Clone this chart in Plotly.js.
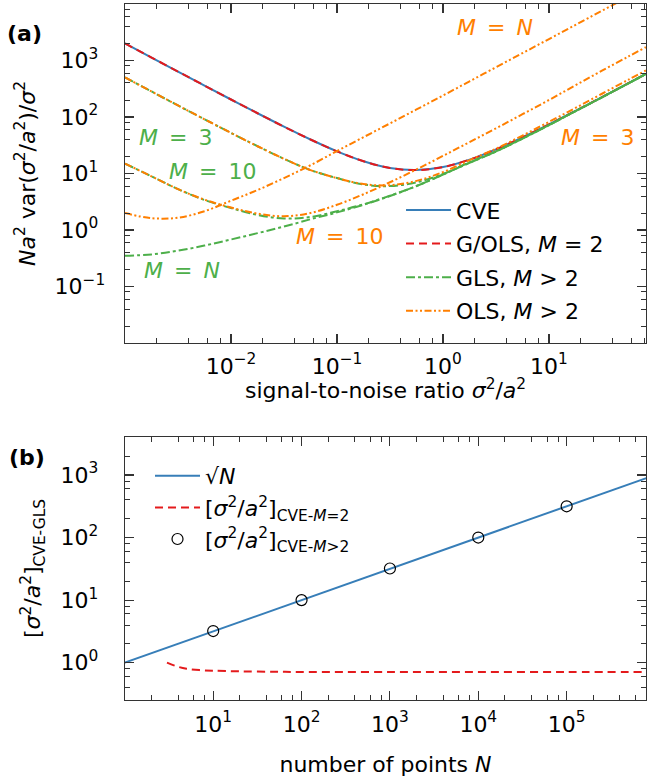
<!DOCTYPE html>
<html><head><meta charset="utf-8">
<script src="https://cdn.plot.ly/plotly-3.0.1.min.js"></script>
<style>html,body{margin:0;padding:0;background:#fff}</style>
</head><body><div id="chart" style="width:650px;height:783px"></div>
<script>
// ---------- panel (a) data ----------
const snr      = [0.001, 0.00178, 0.00316, 0.00562, 0.01, 0.0178, 0.0316, 0.0562, 0.1, 0.178, 0.316, 0.562, 1, 1.78, 3.16, 5.62, 10, 17.8, 31.6, 56.2, 82];
const cve      = [2000, 1128, 637, 360, 204, 116.5, 67.5, 40, 24.7, 16.5, 12.5, 11.5, 13, 17.6, 26.8, 43.7, 74, 128.7, 225, 397, 578];
const gOlsM2   = [2000, 1128, 637, 360, 204, 116.5, 67.5, 40, 24.7, 16.5, 12.5, 11.5, 13, 17.6, 26.8, 43.7, 74, 128.7, 225, 397, 578];
const glsM3    = [502, 283, 160, 91.2, 52.3, 30.4, 18.2, 11.5, 8.3, 6.4, 6.0, 7.0, 9.8, 15.8, 24.7, 41.6, 72, 127, 223, 395, 576];
const glsM10   = [15, 8.9, 5.3, 3.4, 2.45, 1.85, 1.6, 1.7, 2.15, 2.85, 4.05, 6.0, 9.6, 15.5, 24.5, 41.5, 72, 127, 223, 395, 576];
const glsMN    = [0.35, 0.37, 0.43, 0.53, 0.68, 0.88, 1.15, 1.55, 2.05, 2.8, 4.0, 6.0, 9.6, 15.5, 24.5, 41.5, 72, 127, 223, 395, 576];
const olsM3    = [502, 283, 160, 91.2, 52.3, 30.4, 18.2, 11.5, 8.3, 6.5, 6.2, 7.4, 10.6, 17.3, 27.5, 47, 82, 145, 258, 458, 665];
const olsM10   = [15, 8.9, 5.3, 3.45, 2.5, 1.95, 1.75, 2.0, 2.8, 4.3, 7.0, 11.8, 20.5, 36, 63, 112, 200, 365, 660, 1180, 1720];
const olsMN    = [2.0, 1.62, 1.65, 2.15, 3.3, 5.1, 8.3, 14, 25, 44, 77, 136, 240, 428, 760, 1350, 2400, 4270, 7600, 13500, 19700];

// ---------- panel (b) data ----------
const nPts     = [1, 10, 100, 1000, 10000, 100000, 800000];
const sqrtN    = [1, 3.16, 10, 31.6, 100, 316, 894];
const redN     = [3, 4, 5, 7, 10, 20, 50, 100, 1000, 10000, 100000, 800000];
const redVals  = [1.0, 0.86, 0.8, 0.76, 0.745, 0.725, 0.715, 0.71, 0.707, 0.707, 0.707, 0.707];
const circN    = [10, 100, 1000, 10000, 100000];
const circVals = [3.2, 10, 32, 100, 316];

// ---------- tick labels ----------
const NB = '\u00A0';
const aXTickVals = [0.01, 0.1, 1, 10];
const aXTickText = ['10<sup>\u22122</sup>', '10<sup>\u22121</sup>', '10<sup>0</sup>', '10<sup>1</sup>'];
const aYTickVals = [0.1, 1, 10, 100, 1000];
const aYTickText = ['10<sup>\u22121</sup>', '10<sup>0</sup>'+NB, '10<sup>1</sup>'+NB, '10<sup>2</sup>'+NB, '10<sup>3</sup>'+NB];
const bXTickVals = [10, 100, 1000, 10000, 100000];
const bXTickText = ['10<sup>1</sup>', '10<sup>2</sup>', '10<sup>3</sup>', '10<sup>4</sup>', '10<sup>5</sup>'];
const bYTickVals = [1, 10, 100, 1000];
const bYTickText = ['10<sup>0</sup>'+NB, '10<sup>1</sup>'+NB, '10<sup>2</sup>'+NB, '10<sup>3</sup>'+NB];

function minors(d0, d1, maxv) {
  const out = [];
  for (let d = d0; d <= d1; d++) for (const m of [2, 4, 6, 8]) { const v = m * Math.pow(10, d); if (v <= maxv) out.push(v); }
  return out;
}

const FONT = 'DejaVu Sans';
const BLUE = '#377eb8', RED = '#e41a1c', GREEN = '#4daf4a', ORANGE = '#ff7f00';
const DASH = '8px,5px';
const DDD = '7px,2.5px,2px,2.5px,2px,2.5px';

function axis(extra) {
  return Object.assign({
    type: 'log', showline: true, linecolor: '#333', linewidth: 1.3, mirror: 'ticks',
    ticks: 'inside', ticklen: 9, tickwidth: 1.1, tickcolor: '#333',
    showgrid: false, zeroline: false, tickmode: 'array',
    tickfont: {family: FONT, size: 22, color: '#000'}
  }, extra);
}
function minor(vals) {
  return {ticks: 'inside', ticklen: 5, tickwidth: 1, tickcolor: '#333', tickmode: 'array', tickvals: vals};
}

const traces = [
  {x: snr, y: cve, name: 'CVE', legendgroup: 'a1', mode: 'lines', line: {color: BLUE, width: 2, shape: 'spline'}, xaxis: 'x', yaxis: 'y', legend: 'legend'},
  {x: snr, y: gOlsM2, name: 'G/OLS, <i>M</i> = 2', legendgroup: 'a2', mode: 'lines', line: {color: RED, width: 2, dash: DASH, shape: 'spline'}, xaxis: 'x', yaxis: 'y', legend: 'legend'},
  {x: snr, y: glsM3, name: 'GLS, <i>M</i> &gt; 2', legendgroup: 'a3', mode: 'lines', line: {color: GREEN, width: 2, dash: 'dashdot', shape: 'spline'}, xaxis: 'x', yaxis: 'y', legend: 'legend'},
  {x: snr, y: glsM10, name: 'GLS M=10', legendgroup: 'a3', showlegend: false, mode: 'lines', line: {color: GREEN, width: 2, dash: 'dashdot', shape: 'spline'}, xaxis: 'x', yaxis: 'y', legend: 'legend'},
  {x: snr, y: glsMN, name: 'GLS M=N', legendgroup: 'a3', showlegend: false, mode: 'lines', line: {color: GREEN, width: 2, dash: 'dashdot', shape: 'spline'}, xaxis: 'x', yaxis: 'y', legend: 'legend'},
  {x: snr, y: olsM3, name: 'OLS, <i>M</i> &gt; 2', legendgroup: 'a4', mode: 'lines', line: {color: ORANGE, width: 2, dash: DDD, shape: 'spline'}, xaxis: 'x', yaxis: 'y', legend: 'legend'},
  {x: snr, y: olsM10, name: 'OLS M=10', legendgroup: 'a4', showlegend: false, mode: 'lines', line: {color: ORANGE, width: 2, dash: DDD, shape: 'spline'}, xaxis: 'x', yaxis: 'y', legend: 'legend'},
  {x: snr, y: olsMN, name: 'OLS M=N', legendgroup: 'a4', showlegend: false, mode: 'lines', line: {color: ORANGE, width: 2, dash: DDD, shape: 'spline'}, xaxis: 'x', yaxis: 'y', legend: 'legend'},

  {x: nPts, y: sqrtN, name: '\u221A<i>N</i>', mode: 'lines', line: {color: BLUE, width: 2}, xaxis: 'x2', yaxis: 'y2', legend: 'legend2'},
  {x: redN, y: redVals, name: '[<i>σ</i><sup>2</sup>/<i>a</i><sup>2</sup>]<sub>CVE-<i>M</i>=2</sub>', mode: 'lines', line: {color: RED, width: 2, dash: DASH, shape: 'spline'}, xaxis: 'x2', yaxis: 'y2', legend: 'legend2'},
  {x: circN, y: circVals, name: '[<i>σ</i><sup>2</sup>/<i>a</i><sup>2</sup>]<sub>CVE-<i>M</i>&gt;2</sub>', mode: 'markers', marker: {symbol: 'circle-open', size: 11, color: '#000', line: {width: 1.2, color: '#000'}}, xaxis: 'x2', yaxis: 'y2', legend: 'legend2'}
];

const annFont = (c) => ({family: FONT, size: 22, color: c});
const EQ = '\u2002=\u2002';
const layout = {
  width: 650, height: 783,
  margin: {l: 125, r: 4, t: 4, b: 83},
  paper_bgcolor: '#fff', plot_bgcolor: '#fff',
  font: {family: FONT, size: 22, color: '#000'},
  xaxis: axis({domain: [0, 1], range: [-3, 1.915], anchor: 'y', tickvals: aXTickVals, ticktext: aXTickText, ticklabelstandoff: 3,
    minor: minor(minors(-3, 1, 82))}),
  yaxis: axis({domain: [0.5129, 1], range: [-2, 4], anchor: 'x', tickvals: aYTickVals, ticktext: aYTickText, ticklabelstandoff: 14,
    minor: minor(minors(-2, 3, 9000)),
    title: {text: '<i>Na</i><sup>2</sup> var(<i>σ</i><sup>2</sup>/<i>a</i><sup>2</sup>)/<i>σ</i><sup>2</sup>', font: {family: FONT, size: 22, color: '#000'}, standoff: 13}}),
  xaxis2: axis({domain: [0, 1], range: [0.002, 5.898], anchor: 'y2', tickvals: bXTickVals, ticktext: bXTickText, ticklabelstandoff: 4,
    minor: minor(minors(0, 5, 790000)),
    title: {text: 'number of points <i>N</i>', font: {family: FONT, size: 22, color: '#000'}, standoff: 21}}),
  yaxis2: axis({domain: [0, 0.3779], range: [-0.597, 3.608], anchor: 'x2', tickvals: bYTickVals, ticktext: bYTickText, ticklabelstandoff: 14,
    minor: minor(minors(-1, 3, 4000)),
    title: {text: '[<i>σ</i><sup>2</sup>/<i>a</i><sup>2</sup>]<sub>CVE-GLS</sub>', font: {family: FONT, size: 22, color: '#000'}, standoff: 13}}),
  legend: {x: 0.5298, y: 0.734, xanchor: 'left', yanchor: 'top', itemwidth: 45, bgcolor: 'rgba(0,0,0,0)', borderwidth: 0, font: {family: FONT, size: 22, color: '#000'}, tracegroupgap: 2},
  legend2: {x: 0.048, y: 0.352, xanchor: 'left', yanchor: 'top', itemwidth: 45, bgcolor: 'rgba(0,0,0,0)', borderwidth: 0, font: {family: FONT, size: 22, color: '#000'}, tracegroupgap: 0},
  showlegend: true,
  annotations: [
    {xref: 'paper', yref: 'paper', x: 0.5, y: 0.4468, xanchor: 'center', yanchor: 'middle', text: 'signal-to-noise ratio <i>σ</i><sup>2</sup>/<i>a</i><sup>2</sup>', showarrow: false, font: annFont('#000')},
    {xref: 'paper', yref: 'paper', x: -0.192, y: 0.958, xanchor: 'center', yanchor: 'middle', text: '<b>(a)</b>', showarrow: false, font: annFont('#000')},
    {xref: 'paper', yref: 'paper', x: -0.188, y: 0.348, xanchor: 'center', yanchor: 'middle', text: '<b>(b)</b>', showarrow: false, font: annFont('#000')},
    {xref: 'x', yref: 'y', x: 0.49, y: 3.59, xanchor: 'center', yanchor: 'middle', text: '<i>M</i>'+EQ+'<i>N</i>', showarrow: false, font: annFont(ORANGE)},
    {xref: 'x', yref: 'y', x: 1.453, y: 1.63, xanchor: 'center', yanchor: 'middle', text: '<i>M</i>'+EQ+'3', showarrow: false, font: annFont(ORANGE)},
    {xref: 'x', yref: 'y', x: -0.981, y: -0.106, xanchor: 'center', yanchor: 'middle', text: '<i>M</i>'+EQ+'10', showarrow: false, font: annFont(ORANGE)},
    {xref: 'x', yref: 'y', x: -2.52, y: 1.63, xanchor: 'center', yanchor: 'middle', text: '<i>M</i>'+EQ+'3', showarrow: false, font: annFont(GREEN)},
    {xref: 'x', yref: 'y', x: -2.17, y: 1.03, xanchor: 'center', yanchor: 'middle', text: '<i>M</i>'+EQ+'10', showarrow: false, font: annFont(GREEN)},
    {xref: 'x', yref: 'y', x: -2.46, y: -0.71, xanchor: 'center', yanchor: 'middle', text: '<i>M</i>'+EQ+'<i>N</i>', showarrow: false, font: annFont(GREEN)}
  ]
};

Plotly.newPlot('chart', traces, layout, {staticPlot: true, displayModeBar: false});
</script></body></html>
